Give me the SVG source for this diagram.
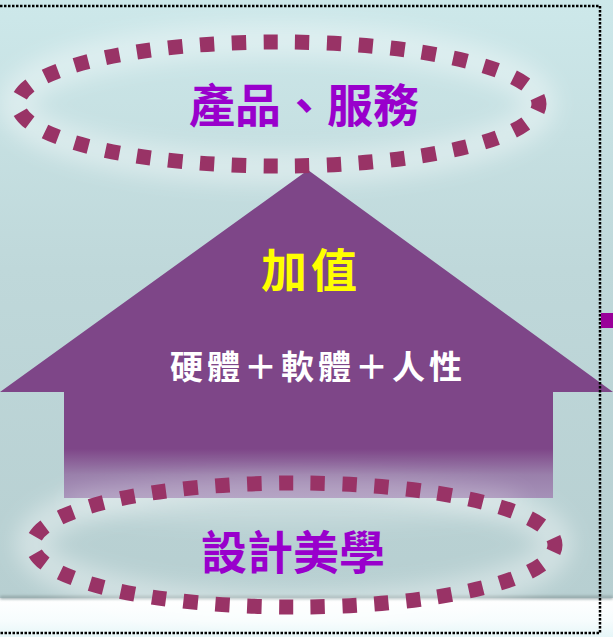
<svg xmlns="http://www.w3.org/2000/svg" width="613" height="637" viewBox="0 0 613 637">
  <defs>
    <linearGradient id="bg" x1="0" y1="0" x2="0" y2="598" gradientUnits="userSpaceOnUse">
      <stop offset="0" stop-color="#cde8ea"/>
      <stop offset="0.45" stop-color="#bfd8da"/>
      <stop offset="1" stop-color="#b7cfd1"/>
    </linearGradient>
    <linearGradient id="floor" x1="0" y1="598" x2="0" y2="637" gradientUnits="userSpaceOnUse">
      <stop offset="0" stop-color="#ffffff"/>
      <stop offset="0.6" stop-color="#f6fcfd"/>
      <stop offset="1" stop-color="#e6f6f8"/>
    </linearGradient>
    <linearGradient id="arrowFill" x1="0" y1="170" x2="0" y2="498" gradientUnits="userSpaceOnUse">
      <stop offset="0" stop-color="#7e4688"/>
      <stop offset="0.85" stop-color="#7e4688"/>
      <stop offset="0.93" stop-color="#9a80ab"/>
      <stop offset="1" stop-color="#a591b8"/>
    </linearGradient>
    <filter id="blur" x="-20%" y="-50%" width="140%" height="200%">
      <feGaussianBlur stdDeviation="10"/>
    </filter>
    <filter id="blur2" x="-5%" y="-200%" width="110%" height="500%">
      <feGaussianBlur stdDeviation="1.5"/>
    </filter>
    <style>
      .dots { fill: none; stroke: #993366; stroke-width: 15; stroke-dasharray: 0.45 0.55; stroke-dashoffset: 0.225; }
      .glow { fill: none; stroke: #ffffff; stroke-opacity: 0.35; stroke-width: 34; filter: url(#blur); }
      .title { font-family: "Noto Sans CJK TC", "Noto Sans CJK SC", sans-serif; font-weight: 700; text-anchor: middle; }
      .purple { fill: #9900cc; font-size: 46px; }
    </style>
  </defs>

  <g id="background">
    <rect x="0" y="0" width="613" height="598" fill="url(#bg)"/>
    <rect x="0" y="598" width="613" height="39" fill="url(#floor)"/>
    <rect x="0" y="596" width="613" height="3" fill="#8fa2a4" filter="url(#blur2)"/>
  </g>

  <g id="glows">
    <ellipse cx="278" cy="104" rx="262" ry="64" class="glow"/>
    <ellipse cx="294" cy="544" rx="262" ry="64" class="glow"/>
  </g>

  <g id="arrow">
    <path d="M308,170 L613,392 L553,392 L553,498 L64,498 L64,392 L0,392 Z" fill="url(#arrowFill)"/>
    <ellipse cx="294" cy="500" rx="230" ry="26" fill="#ffffff" fill-opacity="0.18" filter="url(#blur)"/>
    <text x="311" y="287" class="title" font-size="46" fill="#ffff00" letter-spacing="4">加值</text>
    <text x="318" y="379" class="title" font-size="33" fill="#ffffff" font-weight="500" letter-spacing="4">硬體＋軟體＋人性</text>
  </g>

  <g id="node-top">
    <ellipse cx="278.5" cy="104" rx="260.5" ry="62" pathLength="35" class="dots"/>
    <text x="304" y="122" class="title purple">產品、服務</text>
  </g>

  <g id="node-bottom">
    <ellipse cx="294" cy="545" rx="261" ry="62" pathLength="35" class="dots"/>
    <text x="293" y="569" class="title purple">設計美學</text>
  </g>

  <g id="connectors"/>

  <g id="frame">
    <path d="M0,6 H600 V633 H0" fill="none" stroke="#000000" stroke-width="2.5" stroke-dasharray="2.5 1.5"/>
    <rect x="601" y="313" width="12" height="15" fill="#990099"/>
  </g>
</svg>
